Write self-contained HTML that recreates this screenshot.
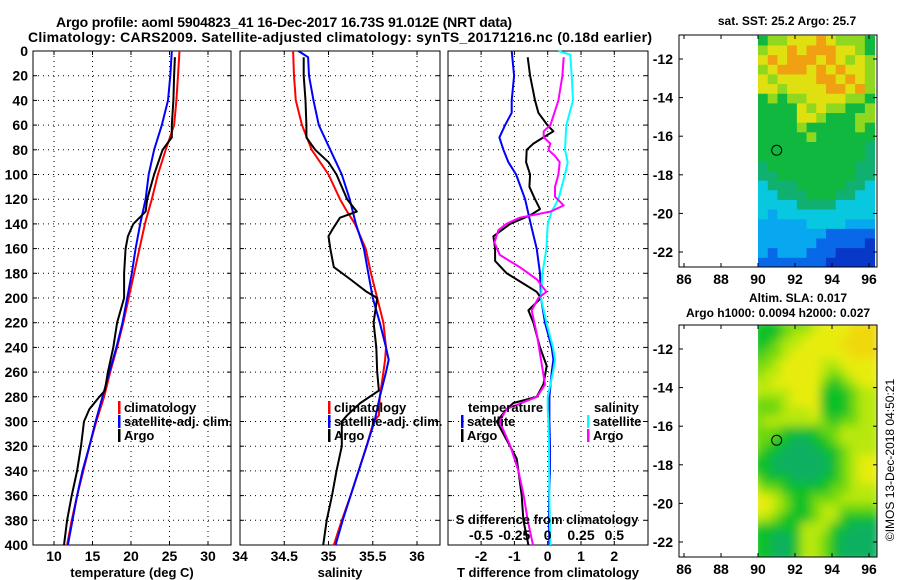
<!DOCTYPE html>
<html><head><meta charset="utf-8"><style>
html,body{margin:0;padding:0;background:#fff;}
svg{display:block;font-family:"Liberation Sans",sans-serif;font-weight:bold;}
</style></head><body>
<svg id="fig" width="900" height="580" viewBox="0 0 900 580" xmlns="http://www.w3.org/2000/svg">
<text x="56" y="27" font-size="14" textLength="456">Argo profile: aoml 5904823_41 16-Dec-2017 16.73S 91.012E (NRT data)</text>
<text x="28" y="42" font-size="14" textLength="624">Climatology: CARS2009. Satellite-adjusted climatology: synTS_20171216.nc (0.18d earlier)</text>
<text x="787" y="25" font-size="12" text-anchor="middle">sat. SST: 25.2 Argo: 25.7</text>
<text x="798" y="302" font-size="12" text-anchor="middle">Altim. SLA: 0.017</text>
<text x="778" y="317" font-size="12" text-anchor="middle">Argo h1000: 0.0094 h2000: 0.027</text>
<text transform="translate(894,460) rotate(-90)" font-size="12" font-weight="normal" text-anchor="middle">©IMOS 13-Dec-2018 04:50:21</text>
<g id="plots"></g>
</svg>
<script>
// ---- data ----
const depthTicks = [0,20,40,60,80,100,120,140,160,180,200,220,240,260,280,300,320,340,360,380,400];
const tempTicks = [10,15,20,25,30];
const salTicks = [34,34.5,35,35.5,36];
const salTickLabels = ["34","34.5","35","35.5","36"];
const tdiffTicks = [-2,-1,0,1,2];
const sdiffTicks = [-0.5,-0.25,0,0.25,0.5];
const latTicks = [-12,-14,-16,-18,-20,-22];
const lonTicks = [86,88,90,92,94,96];

const tClimDepth = [0,20,40,60,80,100,120,140,160,180,200,220,240,260,280,300,320,340,360,380,400];
const tClim = [26.3,26.1,25.9,25.6,24.5,23.5,22.7,21.8,21.1,20.4,19.7,19.0,18.2,17.3,16.5,15.5,14.6,13.8,13.0,12.3,11.7];
const tSatDepth = [0,20,40,60,80,100,120,140,160,180,200,220,240,260,280,300,320,340,360,380,400];
const tSat = [25.3,25.1,24.8,24.0,23.0,22.3,21.9,21.2,20.6,20.1,19.5,18.9,18.1,17.2,16.3,15.4,14.6,13.7,13.0,12.4,11.8];
const tArgoDepth = [5,20,40,60,70,80,100,120,130,140,150,160,180,200,220,240,260,275,280,290,300,320,340,360,380,400];
const tArgo = [25.7,25.6,25.5,25.3,25.3,24.1,23.0,22.1,21.9,20.3,19.6,19.3,19.1,19.1,18.2,17.7,17.0,16.6,15.9,14.6,13.9,13.5,13.0,12.3,11.7,11.3];

const sClimDepth = [0,20,40,60,80,100,120,130,140,160,180,200,220,240,250,260,280,295,300,320,340,360,380,400];
const sClim = [34.60,34.61,34.63,34.70,34.81,35.00,35.13,35.21,35.30,35.42,35.48,35.55,35.62,35.65,35.64,35.62,35.58,35.57,35.51,35.43,35.34,35.25,35.15,35.06];
const sSatDepth = [0,5,20,40,60,80,100,120,140,160,180,200,220,240,250,260,280,300,320,340,360,380,400];
const sSat = [34.66,34.77,34.78,34.83,34.89,35.02,35.15,35.24,35.31,35.40,35.45,35.50,35.58,35.65,35.68,35.65,35.58,35.52,35.43,35.34,35.25,35.16,35.08];
const sArgoDepth = [5,20,40,60,70,80,90,100,120,130,135,145,150,160,175,185,195,200,210,220,240,260,275,285,295,300,320,340,360,380,400];
const sArgo = [34.72,34.72,34.74,34.75,34.75,34.85,35.00,35.09,35.21,35.32,35.13,35.04,35.00,35.02,35.06,35.25,35.43,35.55,35.53,35.51,35.54,35.55,35.57,35.36,35.21,35.15,35.15,35.09,35.04,34.98,34.94];

const dTSatDepth = [0,20,40,50,60,70,80,90,100,120,140,160,180,200,220,240,250,260,280,300,320,340,360,380,400];
const dTSat = [-1.08,-1.01,-1.08,-1.08,-1.28,-1.45,-1.33,-1.18,-0.95,-0.68,-0.51,-0.33,-0.23,-0.20,-0.08,0.12,0.17,0.12,0.05,0.05,0.07,0.07,0.04,0.04,0.05];
const dTArgoDepth = [5,20,40,50,60,65,70,75,80,90,100,110,120,128,133,140,150,160,170,180,190,195,200,210,220,240,255,270,280,285,290,300,315,330,340,360,380,400];
const dTArgo = [-0.60,-0.53,-0.38,-0.28,-0.01,0.17,-0.13,-0.43,-0.63,-0.65,-0.53,-0.55,-0.38,-0.23,-0.53,-1.13,-1.63,-1.58,-1.58,-1.23,-0.63,-0.33,-0.20,-0.58,-0.43,-0.23,-0.03,-0.13,-0.33,-1.03,-1.23,-1.53,-1.23,-0.93,-0.88,-0.78,-0.73,-0.58];
const dSSatDepth = [0,3,20,40,60,80,90,100,120,130,140,160,180,200,220,240,250,260,280,290,300,320,360,400];
const dSSat = [0.08,0.17,0.18,0.19,0.14,0.13,0.15,0.13,0.08,0.03,0.0,-0.01,-0.04,-0.05,-0.01,0.04,0.055,0.04,0.0,0.0,0.005,0.01,0.012,0.02];
const dSArgoDepth = [5,20,40,60,65,70,75,80,85,90,100,110,118,125,130,135,140,145,155,165,175,185,195,200,210,230,250,270,280,290,300,320,340,360,380,400];
const dSArgo = [0.12,0.11,0.08,0.02,-0.03,-0.03,0.02,0.005,0.055,0.09,0.08,0.055,0.055,0.12,0.02,-0.21,-0.31,-0.37,-0.40,-0.36,-0.21,-0.08,-0.01,-0.07,-0.12,-0.08,-0.05,-0.02,-0.08,-0.31,-0.36,-0.28,-0.22,-0.18,-0.15,-0.11];

// map grids: rows from lat -10.8 (top) to -22.8, cols lon 90 to 96.3
const sstGrid = ["566777876665","677878887765","787888787676","678887878776","767777887876","776777788786","565667777665","555576766556","555577655566","555565555565","555556555555","555555555554","555555555554","455555555544","445555555544","344455555443","334445554433","333344443333","323333333333","222223333222","222222211111","222222111110","212221110000","111111100000"];
const sstColors = ["#0838c8","#0868e8","#08a8f0","#08c8e0","#10b070","#10b840","#90d820","#e0e010","#f0a010"];
const slaGrid = ["111222344455","111233444455","112334444555","122344444455","223444433444","233444432344","334444421234","333344411123","222344411123","222333411123","233333321223","222111122333","221100112333","211000011233","110000001234","110000001234","211100011234","322111112233","443211222333","443211233222","332111233111","111113331100","110013321000","110013321000"];
const slaColors = ["#10b060","#10c028","#70d810","#b8e808","#e8ec08","#f0d808"];
const argoLon = 91.01, argoLat = -16.73;

// ---- drawing ----
const NS="http://www.w3.org/2000/svg";
const root=document.getElementById('plots');
function el(tag,attrs,parent){const e=document.createElementNS(NS,tag);for(const k in attrs)e.setAttribute(k,attrs[k]);(parent||root).appendChild(e);return e;}
function txt(x,y,s,attrs){const t=el('text',Object.assign({x:x,y:y,'font-size':12},attrs||{}));t.textContent=s;return t;}

const Y0=51, Y1=545;
const yD=d=>Y0+(Y1-Y0)*d/400;

function panel(name,x0,x1,xs,xticks,xlabels,xtitle){
  const g=el('g',{});
  
  
  el('rect',{x:x0,y:Y0,width:x1-x0,height:Y1-Y0,fill:'#fff',stroke:'#000','stroke-width':1},g);
  depthTicks.forEach(d=>{
    const y=yD(d);
    if(d>0&&d<400){const l=el('line',{x1:x0,x2:x1,y1:y,y2:y,stroke:'#000','stroke-dasharray':'1 4','stroke-width':1},g);
      
      }
    el('line',{x1:x0,x2:x0+4,y1:y,y2:y,stroke:'#000'},g);
    el('line',{x1:x1-4,x2:x1,y1:y,y2:y,stroke:'#000'},g);
  });
  xticks.forEach((v,i)=>{
    const x=xs(v);
    if(x>x0+1&&x<x1-1){const l=el('line',{x1:x,x2:x,y1:Y0,y2:Y1,stroke:'#000','stroke-dasharray':'1 4'},g);
      
      }
    el('line',{x1:x,x2:x,y1:Y0,y2:Y0+4,stroke:'#000'},g);
    el('line',{x1:x,x2:x,y1:Y1-4,y2:Y1,stroke:'#000'},g);
    const t=txt(x,561,xlabels[i],{'text-anchor':'middle','font-size':14});
    
    
  });
  const tt=txt((x0+x1)/2,577,xtitle,{'text-anchor':'middle','font-size':13});
  
  
  return g;
}
function line(g,xs,vals,depths,color,name){
  const pts=vals.map((v,i)=>xs(v).toFixed(1)+','+yD(depths[i]).toFixed(1)).join(' ');
  const p=el('polyline',{points:pts,fill:'none',stroke:color,'stroke-width':2,'stroke-linejoin':'round'},g);
  
  
}
function legendEntry(g,x,y,color,label,name){
  el('rect',{x:x,y:y-11,width:2.5,height:13,fill:color},g);
  const t=txt(x+6,y,label,{'font-size':13});
  
  
}

// depth labels
depthTicks.forEach(d=>{
  const t=txt(28,yD(d)+5,String(d),{'text-anchor':'end','font-size':14});
  
  
});

// panel 1
const xT=v=>54+(v-10)*7.7;
const g1=panel('temperature-panel',33,231,xT,tempTicks,tempTicks.map(String),'temperature (deg C)');
line(g1,xT,tClim,tClimDepth,'#f00','temp-climatology-line');
line(g1,xT,tSat,tSatDepth,'#00f','temp-satellite-line');
line(g1,xT,tArgo,tArgoDepth,'#000','temp-argo-line');
legendEntry(g1,118,412,'#f00','climatology','legend-climatology');
legendEntry(g1,118,426,'#00f','satellite-adj. clim.','legend-satellite');
legendEntry(g1,118,440,'#000','Argo','legend-argo');

// panel 2
const xS=v=>240+(v-34)*88.5;
const g2=panel('salinity-panel',240,440,xS,salTicks,salTickLabels,'salinity');
line(g2,xS,sClim,sClimDepth,'#f00','sal-climatology-line');
line(g2,xS,sSat,sSatDepth,'#00f','sal-satellite-line');
line(g2,xS,sArgo,sArgoDepth,'#000','sal-argo-line');
legendEntry(g2,328,412,'#f00','climatology','legend-climatology');
legendEntry(g2,328,426,'#00f','satellite-adj. clim.','legend-satellite');
legendEntry(g2,328,440,'#000','Argo','legend-argo');

// panel 3
const xTD=v=>547.7+v*33.3;
const xSD=v=>547.7+v*133.2;
const g3=panel('difference-panel',448,648,xTD,tdiffTicks,tdiffTicks.map(String),'T difference from climatology');
line(g3,xTD,dTSat,dTSatDepth,'#00f','tdiff-satellite-line');
line(g3,xTD,dTArgo,dTArgoDepth,'#000','tdiff-argo-line');
line(g3,xSD,dSSat,dSSatDepth,'#0ff','sdiff-satellite-line');
line(g3,xSD,dSArgo,dSArgoDepth,'#f0f','sdiff-argo-line');
{const t=txt(468,412,'temperature',{'font-size':13});}
{const t=txt(594,412,'salinity',{'font-size':13});}
legendEntry(g3,461,426,'#00f','satellite','legend-t-satellite');
legendEntry(g3,461,440,'#000','Argo','legend-t-argo');
legendEntry(g3,587,426,'#0ff','satellite','legend-s-satellite');
legendEntry(g3,587,440,'#f0f','Argo','legend-s-argo');
{const t=txt(547,524,'S difference from climatology',{'font-size':13,'text-anchor':'middle'});}
sdiffTicks.forEach(v=>{const t=txt(xSD(v),540,String(v),{'font-size':14,'text-anchor':'middle'});
  
  });

// maps
function map(name,yTop,yBot,latTopPx,grid,colors,blur){
  const xL=v=>684+(v-86)*18.5;
  const yL=v=>latTopPx+(-12-v)*19.3;
  const g=el('g',{});
  
  
  const x0=679,x1=877;
  const cid='clip'+name;
  const cp=el('clipPath',{id:cid},g);
  el('rect',{x:xL(90),y:yTop,width:x1-xL(90),height:yBot-yTop},cp);
  const cells=el('g',{'clip-path':'url(#'+cid+')'},g);
  const inner=el('g',blur?{filter:'url(#blur)'}:{},cells);
  const rows=grid.length, cols=grid[0].length;
  const latT=-10.8, latB=-22.8, lonL=90, lonR=96.3;
  const dLat=(latB-latT)/rows, dLon=(lonR-lonL)/cols;
  grid.forEach((row,r)=>{for(let c=0;c<cols;c++){
    const v=+row[c];
    const xa=xL(lonL+c*dLon), xb=xL(lonL+(c+1)*dLon);
    const ya=yL(latT+r*dLat), yb=yL(latT+(r+1)*dLat);
    const rc=el('rect',{x:xa-(blur?6:0),y:ya-(blur?6:0),width:xb-xa+(blur?12:0.5),height:yb-ya+(blur?12:0.5),fill:colors[v]},inner);
    
    
  }});
  el('rect',{x:x0,y:yTop,width:x1-x0,height:yBot-yTop,fill:'none',stroke:'#000'},g);
  latTicks.forEach(v=>{const y=yL(v);
    el('line',{x1:x0,x2:x0+4,y1:y,y2:y,stroke:'#000'},g);
    el('line',{x1:x1-4,x2:x1,y1:y,y2:y,stroke:'#000'},g);
    const t=txt(673,y+5,String(v),{'text-anchor':'end','font-size':14});
    
    });
  lonTicks.forEach(v=>{const x=xL(v);
    el('line',{x1:x,x2:x,y1:yTop,y2:yTop+4,stroke:'#000'},g);
    el('line',{x1:x,x2:x,y1:yBot-4,y2:yBot,stroke:'#000'},g);
    const t=txt(x,yBot+17,String(v),{'text-anchor':'middle','font-size':14});
    
    });
  const m=el('circle',{cx:xL(argoLon),cy:yL(argoLat),r:5,fill:'none',stroke:'#000','stroke-width':1},g);
  
  
}
const defs=el('defs',{});
const f=el('filter',{id:'blur',x:'-10%',y:'-10%',width:'120%',height:'120%'},defs);
el('feGaussianBlur',{stdDeviation:'5'},f);
map('sst-map',35,267,59,sstGrid,sstColors,false);
map('sla-map',325,557,349,slaGrid,slaColors,true);
</script>
</body></html>
